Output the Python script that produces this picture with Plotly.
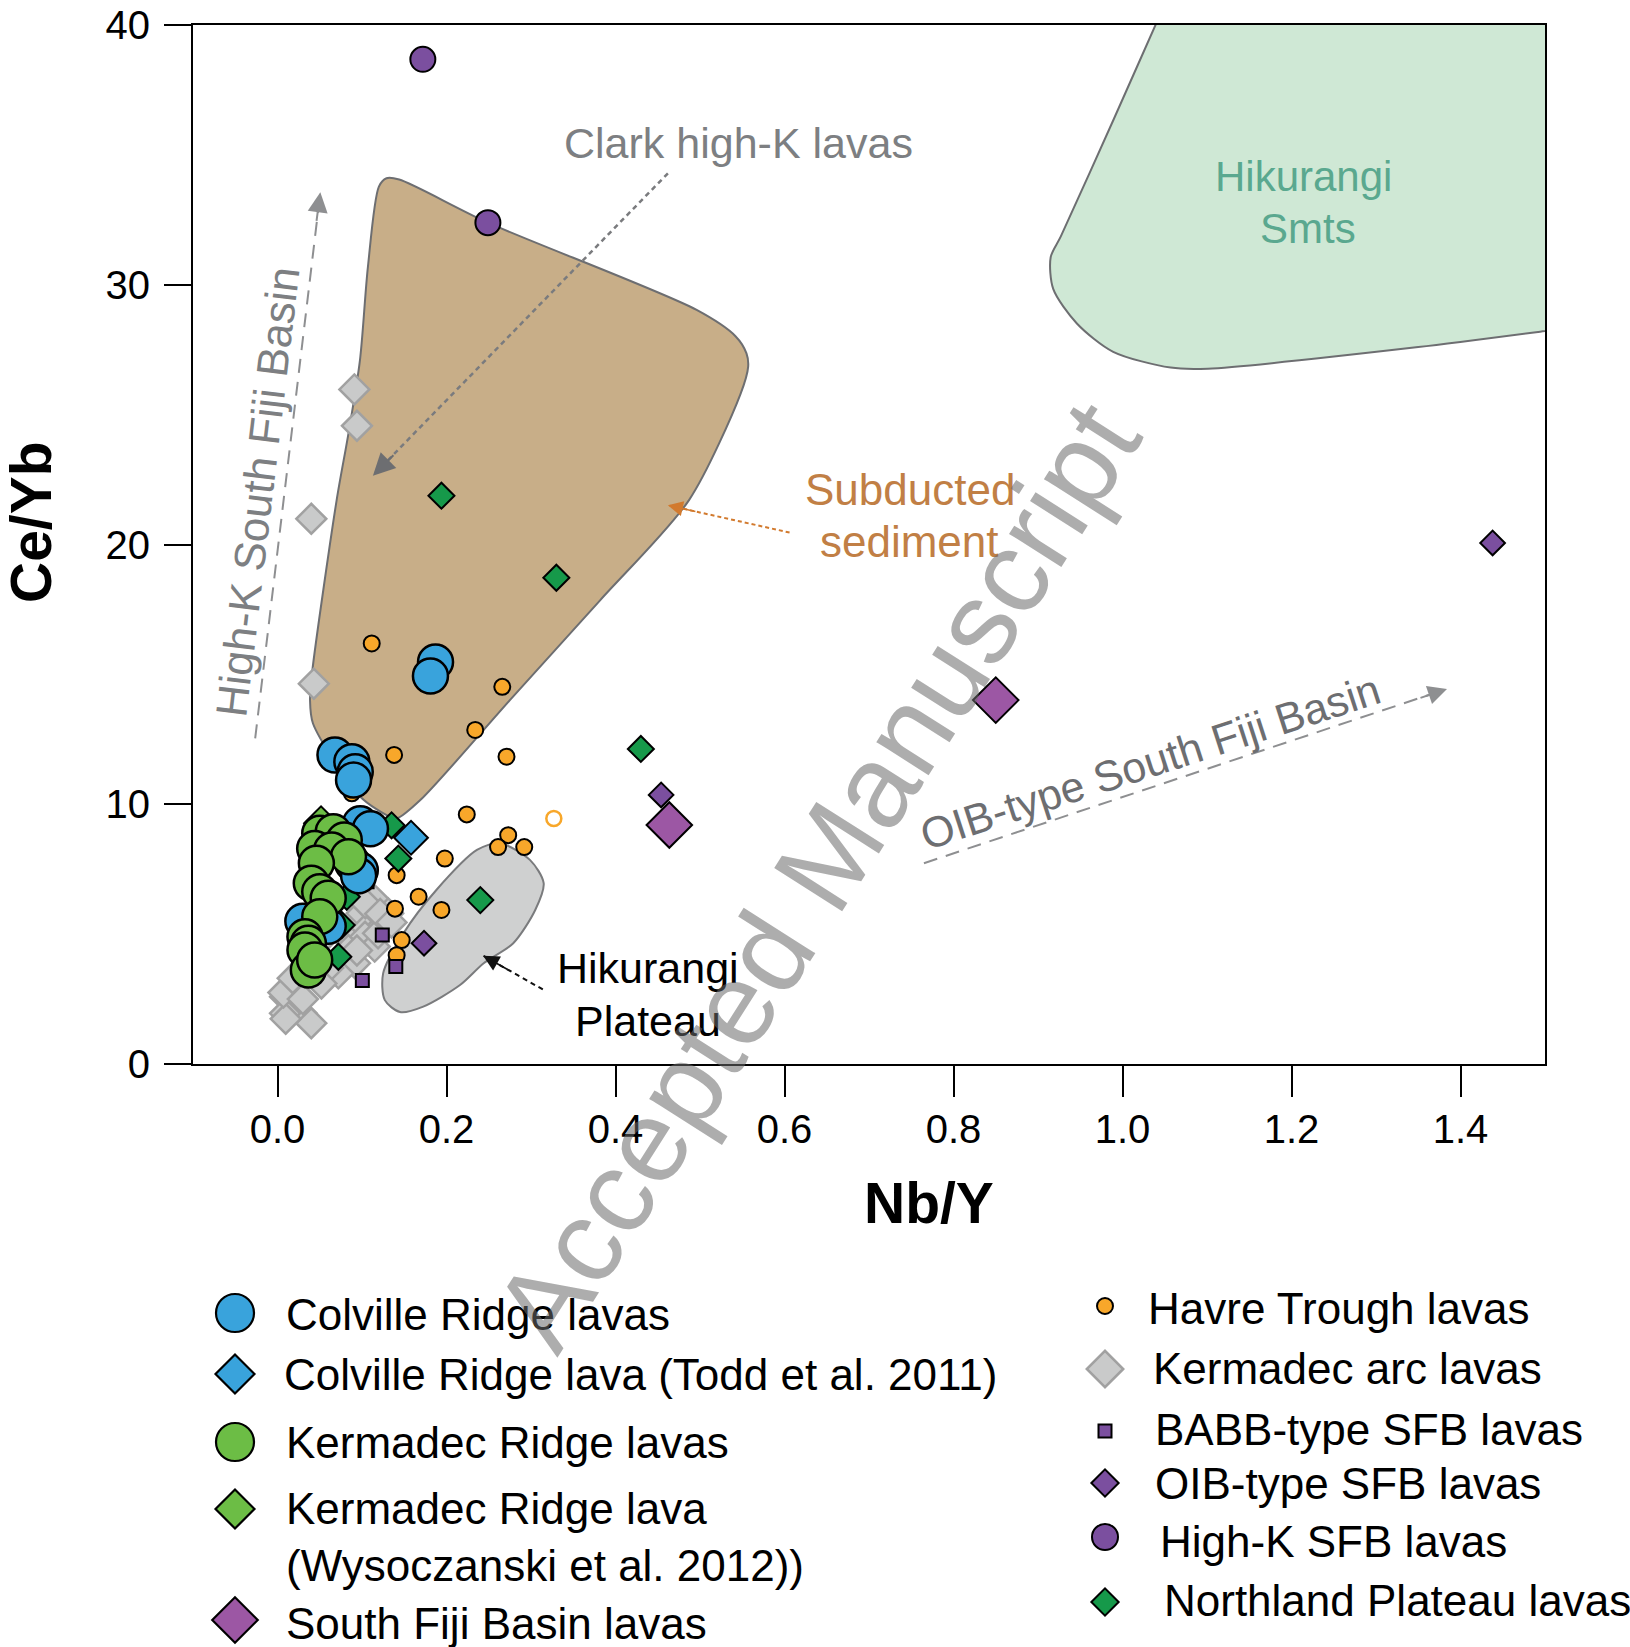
import plotly.graph_objects as go

# ---------------- sample data: Nb/Y (x) versus Ce/Yb (y) ----------------
colville_x = [0.187, 0.181, 0.068, 0.088, 0.092, 0.090, 0.098, 0.110, 0.089, 0.098,
              0.096, 0.030, 0.060]
colville_y = [15.48, 14.94, 11.90, 11.64, 11.25, 10.93, 9.25, 9.06, 7.72, 7.46,
              7.25, 5.50, 5.30]

todd_x = [0.158]
todd_y = [8.71]

kermadec_ridge_x = [0.050, 0.066, 0.079, 0.044, 0.064, 0.084, 0.046, 0.040, 0.050, 0.060,
                    0.050, 0.0325, 0.0365, 0.0325, 0.0365, 0.044]
kermadec_ridge_y = [8.88, 8.94, 8.62, 8.30, 8.24, 7.98, 7.73, 6.96, 6.63, 6.38,
                    5.67, 4.90, 4.65, 4.39, 3.62, 4.00]

wysoczanski_x = [0.0515]
wysoczanski_y = [9.27]

sfb_x = [0.850, 0.4637]
sfb_y = [14.01, 9.20]

havre_x = [0.088, 0.1115, 0.266, 0.234, 0.138, 0.271, 0.224, 0.273, 0.261, 0.292,
           0.198, 0.141, 0.167, 0.194, 0.139, 0.147, 0.141]
havre_y = [10.42, 16.19, 14.52, 12.86, 11.90, 11.83, 9.61, 8.81, 8.35, 8.35,
           7.91, 7.27, 6.44, 5.93, 5.98, 4.77, 4.19]
havre_open_x = [0.327]
havre_open_y = [9.45]

arc_x = [0.091, 0.094, 0.040, 0.043, 0.115, 0.131, 0.0996, 0.1036, 0.123, 0.088,
         0.1036, 0.084, 0.115, 0.0917, 0.072, 0.0168, 0.0089, 0.0207, 0.0286, 0.040,
         0.0089, 0.056, 0.119, 0.0097, 0.026, 0.0445, 0.094, 0.104, 0.1215, 0.135,
         0.007, 0.060, 0.030, 0.052, 0.018]
arc_y = [25.97, 24.57, 20.99, 14.64, 6.31, 5.80, 5.80, 5.16, 5.29, 4.65,
         4.90, 4.39, 4.52, 3.88, 3.49, 2.98, 2.59, 2.21, 1.95, 1.57,
         1.95, 4.90, 5.03, 1.74, 3.36, 3.96, 4.37, 6.19, 5.78, 5.45,
         2.75, 3.70, 2.50, 3.10, 3.30]

babb_x = [0.106, 0.124, 0.140, 0.1004]
babb_y = [7.02, 4.97, 3.75, 3.21]

oib_x = [1.438, 0.454, 0.1734]
oib_y = [20.06, 10.36, 4.65]

highk_x = [0.172, 0.249]
highk_y = [38.68, 32.39]

northland_x = [0.194, 0.330, 0.430, 0.240, 0.135, 0.143, 0.082, 0.076, 0.072]
northland_y = [21.88, 18.72, 12.13, 6.31, 9.19, 7.91, 6.44, 5.35, 4.13]

# ---------------- reference fields (outline vertices) ----------------
sediment_x = [0.249, 0.496, 0.542, 0.555, 0.557, 0.548, 0.487, 0.382, 0.275, 0.169,
              0.1415, 0.133, 0.098, 0.042, 0.0385, 0.041, 0.070, 0.084, 0.0976, 0.107,
              0.120, 0.129, 0.144]
sediment_y = [32.39, 29.03, 28.02, 27.36, 26.85, 25.80, 21.71, 17.86, 14.01, 10.16,
              9.46, 9.52, 10.29, 13.11, 14.01, 15.08, 21.71, 24.28, 27.10, 30.69,
              33.78, 34.10, 34.05]

plateau_x = [0.149, 0.188, 0.236, 0.263, 0.299, 0.315, 0.305, 0.279, 0.244, 0.216,
             0.1725, 0.145, 0.127, 0.125]
plateau_y = [5.03, 6.70, 8.24, 8.50, 7.85, 6.96, 5.93, 4.65, 3.88, 3.04,
             2.21, 2.00, 2.46, 3.49]

# the seamount field runs off the top and right edges of the frame
seamount_x = [0.990, 1.049, 1.108, 1.700, 1.700, 1.550, 1.350, 1.101, 1.057, 0.989,
              0.946, 0.918, 0.915, 0.927]
seamount_y = [36.40, 40.73, 45.00, 45.00, 29.05, 28.43, 27.60, 26.77, 26.81, 27.42,
              28.51, 29.84, 31.06, 31.86]

# ---------------- trend guides: (start, tip) ----------------
clark_arrow_x = [0.462, 0.1129]
clark_arrow_y = [34.29, 22.65]
highk_arrow_x = [-0.0264, 0.0507]
highk_arrow_y = [12.54, 33.56]
oib_arrow_x = [0.765, 1.384]
oib_arrow_y = [7.73, 14.44]
sediment_arrow_x = [0.606, 0.462]
sediment_arrow_y = [20.46, 21.51]
plateau_arrow_x = [0.314, 0.2433]
plateau_arrow_y = [2.87, 4.17]

x_ticks = [0.0, 0.2, 0.4, 0.6, 0.8, 1.0, 1.2, 1.4]
y_ticks = [0, 10, 20, 30, 40]

legend_left = ["Colville Ridge lavas", "Colville Ridge lava (Todd et al. 2011)",
               "Kermadec Ridge lavas", "Kermadec Ridge lava",
               "(Wysoczanski et al. 2012))", "South Fiji Basin lavas"]
legend_right = ["Havre Trough lavas", "Kermadec arc lavas", "BABB-type SFB lavas",
                "OIB-type SFB lavas", "High-K SFB lavas", "Northland Plateau lavas"]

# ---------------- styling ----------------
FONT = "Liberation Sans, Arial, Helvetica, sans-serif"
W, H = 1630, 1647
PL, PR, PT, PB = 193, 1545, 25, 1064

BLUE = "#39a3dc"
LGREEN = "#6cbd45"
ORANGE = "#f8a72a"
PURPLE = "#7b4f9f"
MAGENTA = "#9c57a4"
DGREEN = "#16994a"
GREY_FILL = "#c9caca"
GREY_LINE = "#a1a1a1"

fig = go.Figure()


def field(xs, ys, fill, line):
    # close the outline so the stroke runs all the way round
    fig.add_trace(go.Scatter(
        x=list(xs) + [xs[0]], y=list(ys) + [ys[0]], mode="lines", fill="toself",
        fillcolor=fill,
        line=dict(color=line, width=2, shape="spline", smoothing=0.8),
        hoverinfo="skip", showlegend=False))


field(seamount_x, seamount_y, "#cfe8d5", "#6d6e71")
field(sediment_x, sediment_y, "#c8ae88", "#6d6e71")
field(plateau_x, plateau_y, "#cfd0d0", "#7a7b7d")


def guide(xs, ys, color, dash, width=2.2):
    fig.add_trace(go.Scatter(
        x=xs, y=ys, mode="lines", line=dict(color=color, width=width, dash=dash),
        hoverinfo="skip", showlegend=False))


guide(clark_arrow_x, clark_arrow_y, "#7a7b7e", "5px,4px", 2.5)
guide(highk_arrow_x, highk_arrow_y, "#8e8f91", "14px,9px", 2)
guide(oib_arrow_x, oib_arrow_y, "#8e8f91", "14px,9px", 2)
guide(sediment_arrow_x, sediment_arrow_y, "#d27a2e", "4px,3px", 2)
guide(plateau_arrow_x, plateau_arrow_y, "#111111", "5px,4px", 2)


def pts(xs, ys, symbol, size, color, lcolor="black", lwidth=2, xa="x", ya="y"):
    fig.add_trace(go.Scatter(
        x=xs, y=ys, mode="markers", xaxis=xa, yaxis=ya,
        marker=dict(symbol=symbol, size=size, color=color,
                    line=dict(color=lcolor, width=lwidth)),
        hoverinfo="skip", showlegend=False, cliponaxis=False))


pts(arc_x, arc_y, "diamond", 23, GREY_FILL, GREY_LINE, 2.5)
pts(havre_x, havre_y, "circle", 16, ORANGE)
pts(havre_open_x, havre_open_y, "circle-open", 15, ORANGE, ORANGE, 2.5)
pts(babb_x, babb_y, "square", 13, PURPLE)
pts(oib_x, oib_y, "diamond", 19, PURPLE)
pts(sfb_x, sfb_y, "diamond", 35, MAGENTA)
pts(northland_x, northland_y, "diamond", 20, DGREEN)
pts(colville_x, colville_y, "circle", 35, BLUE, "black", 2.5)
pts(todd_x, todd_y, "diamond", 26, BLUE)
pts(wysoczanski_x, wysoczanski_y, "diamond", 26, LGREEN)
pts(kermadec_ridge_x, kermadec_ridge_y, "circle", 35, LGREEN, "black", 2.5)
pts(highk_x, highk_y, "circle", 25, PURPLE)

# ---------------- legend drawn on a pixel-space overlay axis ----------------
left_marker_x, right_marker_x = 235, 1105
left_rows = [1313, 1374, 1442, 1509, 1620]
right_rows = [1306, 1369, 1431, 1483, 1537, 1602]
left_styles = [("circle", 38, BLUE), ("diamond", 30, BLUE), ("circle", 38, LGREEN),
               ("diamond", 30, LGREEN), ("diamond", 35, MAGENTA)]
right_styles = [("circle", 16, ORANGE, "black"), ("diamond", 28, GREY_FILL, GREY_LINE),
                ("square", 13, PURPLE, "black"), ("diamond", 21, PURPLE, "black"),
                ("circle", 26, PURPLE, "black"), ("diamond", 21, DGREEN, "black")]
for yy, (sym, sz, col) in zip(left_rows, left_styles):
    pts([left_marker_x], [yy], sym, sz, col, "black", 2.2, "x2", "y2")
for yy, (sym, sz, col, lc) in zip(right_rows, right_styles):
    pts([right_marker_x], [yy], sym, sz, col, lc, 2.5 if lc != "black" else 2, "x2", "y2")

annotations = []
left_text_pos = [(284, 1314), (282, 1374), (284, 1442), (284, 1508), (284, 1565), (284, 1623)]
right_text_pos = [(1146, 1308), (1151, 1368), (1153, 1429), (1153, 1483), (1158, 1541), (1162, 1600)]
for label_text, (tx, ty) in list(zip(legend_left, left_text_pos)) + list(zip(legend_right, right_text_pos)):
    annotations.append(dict(x=tx, y=ty, xref="x2", yref="y2", text=label_text, showarrow=False,
                            xanchor="left", yanchor="middle",
                            font=dict(family=FONT, size=44, color="black")))


def label(x, y, text, color, size=43, angle=0):
    annotations.append(dict(x=x, y=y, xref="x", yref="y", text=text, showarrow=False,
                            textangle=angle, xanchor="center", yanchor="middle",
                            font=dict(family=FONT, size=size, color=color)))


def head(xs, ys, color, dx, dy, width, size):
    annotations.append(dict(x=xs[1], y=ys[1], xref="x", yref="y", text="",
                            showarrow=True, ax=dx, ay=dy, arrowhead=2,
                            arrowwidth=width, arrowsize=size, arrowcolor=color))


label(0.545, 35.46, "Clark high-K lavas", "#7d7f82")
label(-0.0243, 22.02, "High-K South Fiji Basin", "#7d7f82", 44, -83.2)
label(0.748, 22.12, "Subducted", "#c17f45", 44)
label(0.748, 20.10, "sediment", "#c17f45", 44)
label(1.214, 34.16, "Hikurangi", "#5aa88f", 42)
label(1.220, 32.17, "Smts", "#5aa88f", 42)
label(1.0325, 11.63, "OIB-type South Fiji Basin", "#6d6e71", 43, -18)
label(0.439, 3.68, "Hikurangi", "black", 43)
label(0.439, 1.66, "Plateau", "black", 43)

head(clark_arrow_x, clark_arrow_y, "#6d6e71", 22, -22, 2, 2.2)
head(highk_arrow_x, highk_arrow_y, "#8e8f91", -4, 30, 2, 2.0)
head(oib_arrow_x, oib_arrow_y, "#8e8f91", -28, 9.5, 2, 1.9)
head(sediment_arrow_x, sediment_arrow_y, "#d27a2e", 29, 6.6, 1.5, 2.0)
head(plateau_arrow_x, plateau_arrow_y, "#111111", 26, 14.7, 1.6, 2.0)

# axis titles
annotations.append(dict(x=929 / W, y=1 - 1203 / H, xref="paper", yref="paper",
                        text="<b>Nb/Y</b>", showarrow=False, xanchor="center", yanchor="middle",
                        font=dict(family=FONT, size=57, color="black")))
annotations.append(dict(x=31 / W, y=1 - 522 / H, xref="paper", yref="paper",
                        text="<b>Ce/Yb</b>", showarrow=False, textangle=-90,
                        xanchor="center", yanchor="middle",
                        font=dict(family=FONT, size=57, color="black")))

# watermark
annotations.append(dict(x=817 / W, y=1 - 876 / H, xref="paper", yref="paper",
                        text="Accepted Manuscript", showarrow=False, textangle=-57.5,
                        xanchor="center", yanchor="middle",
                        font=dict(family=FONT, size=117, color="rgba(105,105,105,0.55)")))

axis_common = dict(showgrid=False, zeroline=False, showline=True, linecolor="black",
                   linewidth=2, mirror=True, ticks="outside", tickwidth=2, tickcolor="black",
                   automargin=False,
                   tickfont=dict(family=FONT, size=40, color="black"))

fig.update_layout(
    width=W, height=H, margin=dict(l=0, r=0, t=0, b=0, autoexpand=False),
    paper_bgcolor="white", plot_bgcolor="rgba(0,0,0,0)",
    showlegend=False,
    xaxis=dict(domain=[PL / W, PR / W], range=[-0.1, 1.5], tickvals=x_ticks,
               ticktext=[f"{v:.1f}" for v in x_ticks], ticklen=31, ticklabelstandoff=-2,
               anchor="y", **axis_common),
    yaxis=dict(domain=[1 - PB / H, 1 - PT / H], range=[0, 40], tickvals=y_ticks,
               ticklen=27, ticklabelstandoff=6, anchor="x", **axis_common),
    xaxis2=dict(domain=[0, 1], range=[0, W], visible=False, anchor="y2"),
    yaxis2=dict(domain=[0, 1], range=[H, 0], visible=False, anchor="x2"),
    annotations=annotations,
)

fig.write_html("out.html")
